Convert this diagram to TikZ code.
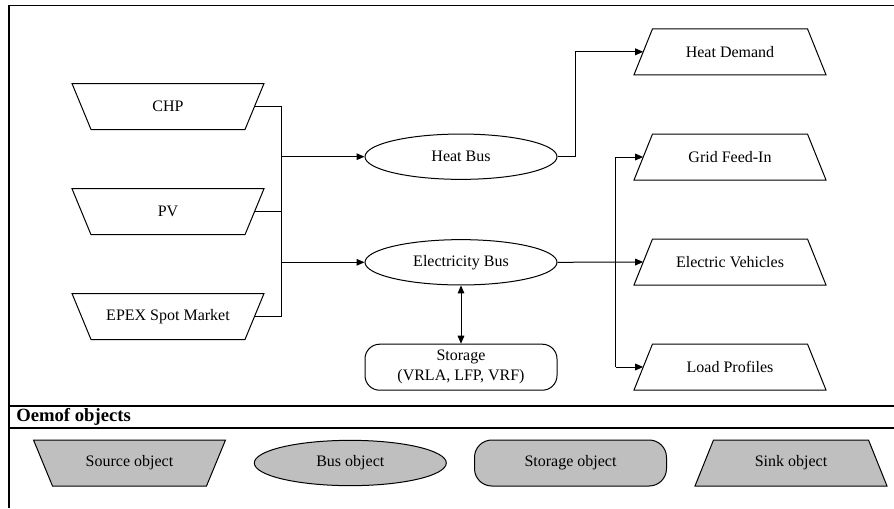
\documentclass[tikz,border=0pt]{standalone}
\usepackage{fontspec}
\setmainfont{Liberation Serif}
\usetikzlibrary{shapes.geometric,arrows.meta,calc,backgrounds}
\tikzset{
  base/.style={draw=black, line width=0.75pt, inner sep=0pt, font=\fontsize{12pt}{15pt}\selectfont, align=center},
  trap/.style={inner sep=0pt, font=\fontsize{12pt}{15pt}\selectfont, align=center, rectangle, minimum width=129.75pt, minimum height=34.5pt},
  shp/.style={draw=black, line width=0.75pt},
  bus/.style={base, ellipse, minimum width=144pt, minimum height=34pt},
  stor/.style={base, rectangle, rounded corners=11pt, minimum width=144pt, minimum height=34.5pt},
  legend/.style={fill=gray!50},
  conn/.style={line width=0.75pt},
  arr/.style={conn, -{Triangle[length=6pt,width=5pt]}},
  darr/.style={conn, {Triangle[length=6pt,width=5pt]}-{Triangle[length=6pt,width=5pt]}},
  frame/.style={line width=0.9pt}
}
\newcommand{\srcpoly}[2][]{\draw[shp,#1] ($(#2)+(-96,-23)$) -- ($(#2)+(96,-23)$) -- ($(#2)+(77,23)$) -- ($(#2)+(-77,23)$) -- cycle;}
\newcommand{\snkpoly}[2][]{\draw[shp,#1] ($(#2)+(-77.5,-23)$) -- ($(#2)+(77.5,-23)$) -- ($(#2)+(96,23)$) -- ($(#2)+(-96,23)$) -- cycle;}
\begin{document}
\begin{tikzpicture}[x=0.75pt,y=-0.75pt]
\useasboundingbox (0,0) rectangle (894,508);
% frame
\draw[frame] (9,508) -- (9,5.5) -- (894,5.5);
\draw[frame] (9,406) -- (894,406);
\draw[frame] (9,428) -- (894,428);
\node[anchor=west, font=\fontsize{14pt}{16pt}\selectfont\bfseries, inner sep=0pt] (title) at (16,417) {Oemof objects};
% sources
\node[trap] (chp) at (168,106.5) {CHP};
\node[trap] (pv) at (168,211.7) {PV};
\node[trap] (epex) at (168,316.5) {EPEX Spot Market};
% buses
\node[bus] (heat) at (461,156.7) {Heat Bus};
\node[bus] (elec) at (461,262.3) {Electricity Bus};
% storage
\node[stor] (storage) at (461,367.2) {Storage\\(VRLA, LFP, VRF)};
% sinks
\node[trap] (hd) at (730,51.8) {Heat Demand};
\node[trap] (gf) at (730,157) {Grid Feed-In};
\node[trap] (ev) at (730,262) {Electric Vehicles};
\node[trap] (lp) at (730,367) {Load Profiles};
% legend nodes
\node[trap] (lsrc) at (129.5,463) {Source object};
\node[bus, legend] (lbus) at (350.3,463) {Bus object};
\node[stor, legend, rounded corners=13pt] (lstor) at (570.5,463) {Storage object};
\node[trap] (lsnk) at (791,463) {Sink object};
% trapezium outlines
\begin{scope}[on background layer]
\srcpoly{chp}
\srcpoly{pv}
\srcpoly{epex}
\snkpoly{hd}
\snkpoly{gf}
\snkpoly{ev}
\snkpoly{lp}
\srcpoly[legend]{lsrc}
\snkpoly[legend]{lsnk}
\end{scope}
% junction coordinates
\coordinate (jx) at (281,0);
\coordinate (hx) at (575,0);
\coordinate (sx) at (615.7,0);
% source connections
\draw[conn] (chp.east) -- (chp.east -| jx) -- (epex.east -| jx) -- (epex.east);
\draw[conn] (pv.east) -- (pv.east -| jx);
\draw[arr] (heat.west -| jx) -- (heat.west);
\draw[arr] (elec.west -| jx) -- (elec.west);
% heat bus to demand
\draw[arr] (heat.east) -- (heat.east -| hx) |- (hd.west);
% electricity bus to sinks
\draw[arr] (elec.east) -- (ev.west);
\draw[conn] (gf.west -| sx) -- (lp.west -| sx);
\draw[arr] (gf.west -| sx) -- (gf.west);
\draw[arr] (lp.west -| sx) -- (lp.west);
% storage
\draw[darr] (elec.south) -- (storage.north);
\end{tikzpicture}
\end{document}
